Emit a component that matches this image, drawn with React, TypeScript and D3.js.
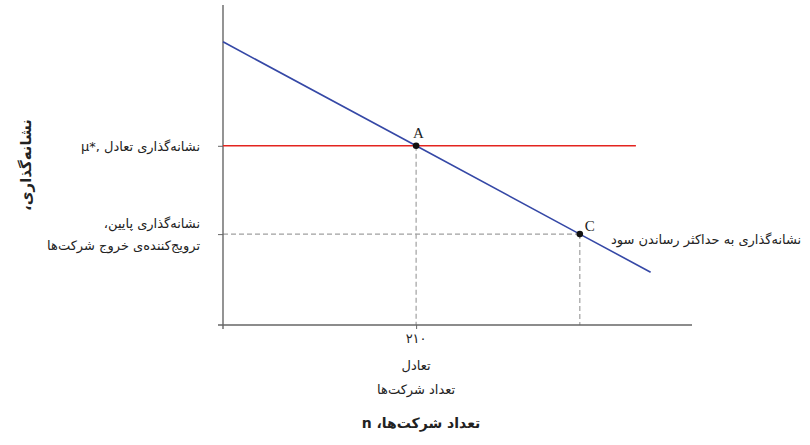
import { useEffect, useRef } from 'react'
import * as d3 from 'd3'

const WIDTH = 810
const HEIGHT = 445

// number of firms (n) and markup values
const DEMAND_N = [0, 210, 388, 465]
const DEMAND_MARKUP = [88.5, 56, 28.4, 16.5]
const EQ_N = 210
const EQ_MARKUP = 56
const EQ_LINE_END_N = 449
const C_N = 388
const C_MARKUP = 28.4
const X_TICK_LABELS = ['۲۱۰']
const POINT_LABELS = ['A', 'C']

const FONT = '"DejaVu Sans", sans-serif'
const AXIS_COLOR = '#666'
const RED = '#e3241f'
const BLUE = '#3548a6'
const DASH = '#a0a0a0'

export default function App() {
  const svgRef = useRef<SVGSVGElement>(null)

  useEffect(() => {
    const svg = d3.select(svgRef.current)
    svg.selectAll('*').remove()

    const x = d3.scaleLinear([0, 510], [223, 692])
    const y = d3.scaleLinear([0, 100], [325, 5])

    const demand = DEMAND_N.map((n, i) => ({ n, m: DEMAND_MARKUP[i] }))

    // ── Dashed guides ───────────────────────────────────────────────────────────
    const guides = [
      { x1: x(0), y1: y(C_MARKUP), x2: x(C_N), y2: y(C_MARKUP) },
      { x1: x(EQ_N), y1: y(EQ_MARKUP), x2: x(EQ_N), y2: y(0) },
      { x1: x(C_N), y1: y(C_MARKUP), x2: x(C_N), y2: y(0) },
    ]
    svg.selectAll('line.guide').data(guides).enter().append('line')
      .attr('class', 'guide')
      .attr('x1', d => d.x1).attr('y1', d => d.y1)
      .attr('x2', d => d.x2).attr('y2', d => d.y2)
      .attr('stroke', DASH).attr('stroke-width', 1.2).attr('stroke-dasharray', '5,3')

    // ── Axes ────────────────────────────────────────────────────────────────────
    svg.append('g')
      .attr('transform', `translate(0,${y(0)})`)
      .call(d3.axisBottom(x).tickValues([EQ_N]).tickSize(4).tickSizeOuter(0).tickFormat(() => ''))
      .call(ag => ag.select('.domain').attr('stroke', AXIS_COLOR).attr('stroke-width', 1.4)
        .attr('d', `M${x(0) - 5},0H${x(510)}`))
      .call(ag => ag.selectAll('.tick line').attr('stroke', AXIS_COLOR))

    svg.append('g')
      .attr('transform', `translate(${x(0)},0)`)
      .call(d3.axisLeft(y).tickValues([C_MARKUP, EQ_MARKUP]).tickSize(5).tickSizeOuter(0).tickFormat(() => ''))
      .call(ag => ag.select('.domain').attr('stroke', AXIS_COLOR).attr('stroke-width', 1.4)
        .attr('d', `M0,${y(100)}V${y(0) + 4}`))
      .call(ag => ag.selectAll('.tick line').attr('stroke', AXIS_COLOR))

    // ── Equilibrium markup (red) ────────────────────────────────────────────────
    svg.append('line')
      .attr('x1', x(0)).attr('x2', x(EQ_LINE_END_N))
      .attr('y1', y(EQ_MARKUP)).attr('y2', y(EQ_MARKUP))
      .attr('stroke', RED).attr('stroke-width', 1.5)

    // ── Profit-maximising markup (blue) ─────────────────────────────────────────
    svg.append('path')
      .datum(demand)
      .attr('d', d3.line<{ n: number; m: number }>().x(d => x(d.n)).y(d => y(d.m)))
      .attr('fill', 'none').attr('stroke', BLUE).attr('stroke-width', 1.6)

    // ── Points ─────────────────────────────────────────────────────────────────
    const pts = [
      { n: EQ_N, m: EQ_MARKUP, label: POINT_LABELS[0], dx: -3, dy: -8 },
      { n: C_N, m: C_MARKUP, label: POINT_LABELS[1], dx: 5, dy: -3 },
    ]
    pts.forEach(p => {
      svg.append('circle').attr('cx', x(p.n)).attr('cy', y(p.m)).attr('r', 3.3).attr('fill', '#111')
      svg.append('text')
        .attr('x', x(p.n) + p.dx).attr('y', y(p.m) + p.dy)
        .attr('font-family', '"Liberation Serif", serif').attr('font-size', 15).attr('fill', '#222')
        .text(p.label)
    })

    // ── Labels ─────────────────────────────────────────────────────────────────
    const label = (tx: number, ty: number, s: string, anchor = 'start', size = 13, weight = 'normal') =>
      svg.append('text')
        .attr('x', tx).attr('y', ty)
        .attr('direction', 'rtl')
        .attr('text-anchor', anchor)
        .attr('font-family', FONT).attr('font-size', size).attr('font-weight', weight)
        .attr('fill', '#222')
        .text(s)

    label(200, y(EQ_MARKUP) + 5, 'نشانه‌گذاری تعادل ,*μ')
    label(200, y(C_MARKUP) - 6, 'نشانه‌گذاری پایین،')
    label(200, y(C_MARKUP) + 16, 'ترویج‌کننده‌ی خروج شرکت‌ها')
    label(611, y(C_MARKUP) + 10, 'نشانه‌گذاری به حداکثر رساندن سود', 'end')

    label(x(EQ_N), 343, X_TICK_LABELS[0], 'middle')
    label(x(EQ_N), 370, 'تعادل', 'middle')
    label(x(EQ_N), 394, 'تعداد شرکت‌ها', 'middle')
    label(421, 428, 'تعداد شرکت‌ها، n', 'middle', 14, 'bold')

    svg.append('text')
      .attr('transform', `translate(31,${165}) rotate(-90)`)
      .attr('direction', 'rtl')
      .attr('text-anchor', 'middle')
      .attr('font-family', FONT).attr('font-size', 15).attr('font-weight', 'bold')
      .attr('fill', '#222')
      .text('نشانه‌گذاری،')
  }, [])

  return (
    <svg
      ref={svgRef}
      width={WIDTH}
      height={HEIGHT}
      style={{ position: 'absolute', left: 0, top: 0, background: '#fff' }}
    />
  )
}
